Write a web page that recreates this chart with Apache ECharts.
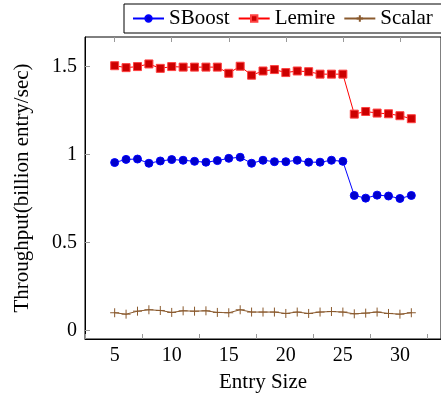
<!DOCTYPE html>
<html><head><meta charset="utf-8">
<script src="https://cdn.jsdelivr.net/npm/echarts@6/dist/echarts.min.js"></script>
<style>html,body{margin:0;padding:0;background:#fff}#c{width:441px;height:398px}</style>
</head><body><div id="c"></div>
<script>
const entrySizes = [5,6,7,8,9,10,11,12,13,14,15,16,17,18,19,20,21,22,23,24,25,26,27,28,29,30,31];
const sboost = [0.955,0.973,0.975,0.951,0.964,0.972,0.968,0.962,0.957,0.966,0.979,0.985,0.951,0.968,0.960,0.960,0.968,0.957,0.957,0.968,0.962,0.768,0.753,0.770,0.765,0.751,0.768];
const lemire = [1.505,1.494,1.500,1.515,1.490,1.500,1.497,1.497,1.497,1.497,1.462,1.502,1.451,1.475,1.483,1.466,1.475,1.471,1.457,1.457,1.457,1.230,1.245,1.236,1.232,1.221,1.204];
const scalar = [0.102,0.094,0.111,0.119,0.115,0.104,0.113,0.111,0.113,0.104,0.102,0.119,0.106,0.106,0.106,0.098,0.106,0.098,0.106,0.109,0.106,0.096,0.100,0.106,0.098,0.094,0.102];
const xTicks = [5,10,15,20,25,30];
const yTicks = [0,0.5,1,1.5];
const seriesNames = ['SBoost','Lemire','Scalar'];

const font = 'Liberation Serif';
const pair = (arr) => entrySizes.map((x,i)=>[x,arr[i]]);
const tickStyle = {show:true, inside:true, length:5, lineStyle:{color:'#999', width:1}};
const legendText = {fontFamily:font, fontSize:21, color:'#000'};
const option = {
  animation:false,
  textStyle:{fontFamily:font, color:'#000'},
  grid:{left:85, top:37, width:356, bottom:58, show:true, borderColor:'#000', borderWidth:1, backgroundColor:'transparent'},
  legend:{
    data:seriesNames,
    left:124, top:4, width:420, padding:[4,12,4,8], itemGap:8, itemWidth:31, itemHeight:8,
    borderColor:'#000', borderWidth:1, backgroundColor:'#fff',
    textStyle:legendText
  },
  xAxis:[{
    type:'value', min:2.4, max:33.6, interval:5,
    name:'Entry Size', nameLocation:'middle', nameGap:33,
    nameTextStyle:{fontFamily:font, fontSize:21, color:'#000'},
    axisLine:{show:true, onZero:false, lineStyle:{color:'#000', width:1}},
    axisTick:tickStyle,
    axisLabel:{fontFamily:font, fontSize:20, color:'#000', margin:7,
      customValues: xTicks},
    splitLine:{show:false}
  },{
    type:'value', position:'top', min:2.4, max:33.6,
    axisLine:{show:false, onZero:false}, axisTick:Object.assign({}, tickStyle, {customValues: xTicks}),
    axisLabel:{show:false}, splitLine:{show:false}
  }],
  yAxis:{
    type:'value', min:-0.047, max:1.668,
    name:'Throughput(billion entry/sec)', nameLocation:'middle', nameGap:52,
    nameTextStyle:{fontFamily:font, fontSize:21, color:'#000'},
    axisLine:{show:true, onZero:false, lineStyle:{color:'#000', width:1}},
    axisTick:Object.assign({}, tickStyle, {customValues: yTicks}),
    axisLabel:{fontFamily:font, fontSize:20, color:'#000', margin:8, customValues: yTicks},
    splitLine:{show:false}
  },
  series:[
    {name:'SBoost', type:'line', data:pair(sboost), symbol:'circle', symbolSize:8,
     lineStyle:{color:'#0000ff', width:1}, itemStyle:{color:'#0000cc', borderColor:'#0000ff', borderWidth:1}},
    {name:'Lemire', type:'line', data:pair(lemire), symbol:'rect', symbolSize:8,
     lineStyle:{color:'#ff0000', width:1}, itemStyle:{color:'#cc0000', borderColor:'#ff4040', borderWidth:1}},
    {name:'Scalar', type:'line', data:pair(scalar), symbol:'path://M5,0L5,10M0,5L10,5', symbolSize:9,
     lineStyle:{color:'#8a5a2e', width:1}, itemStyle:{color:'#8a5a2e', borderColor:'#8a5a2e', borderWidth:1}}
  ]
};
const chart = echarts.init(document.getElementById('c'), null, {renderer:'canvas'});
chart.setOption(option);
</script></body></html>
